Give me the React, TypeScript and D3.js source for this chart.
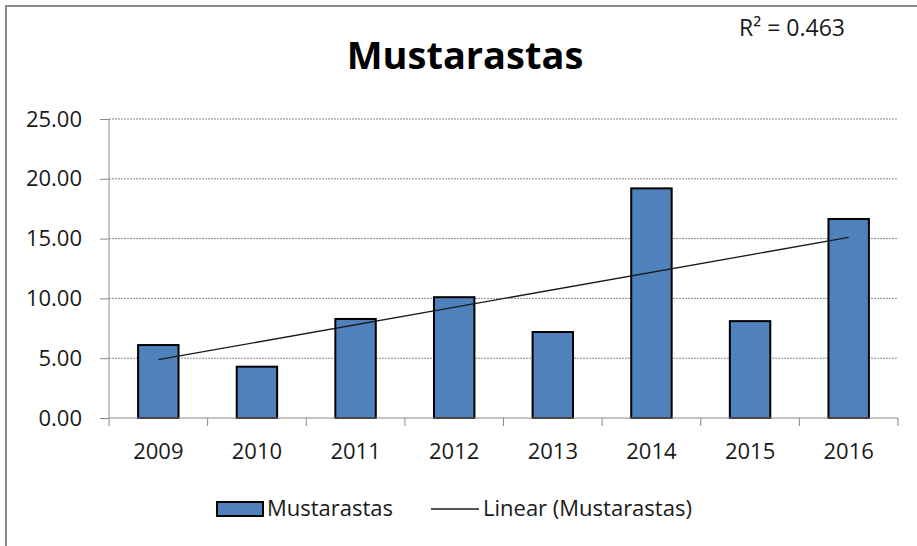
import React, { useRef, useEffect } from 'react';
import * as d3 from 'd3';

const years = ['2009', '2010', '2011', '2012', '2013', '2014', '2015', '2016'];
const values = [6.1, 4.29, 8.28, 10.1, 7.19, 19.2, 8.1, 16.64];
const yTicks = [0, 5, 10, 15, 20, 25];
const seriesName = 'Mustarastas';
const trendName = 'Linear (Mustarastas)';
const rSquaredLabel = 'R² = 0.463';

const FONT = '"Open Sans", Lato, sans-serif';

export default function App() {
  const svgRef = useRef<SVGSVGElement | null>(null);

  useEffect(() => {
    const W = 917;
    const H = 546;
    const svg = d3.select(svgRef.current);
    svg.selectAll('*').remove();
    svg.attr('width', W).attr('height', H);

    // frame (only left and top edges show in the crop)
    svg.append('path')
      .attr('d', `M6,${H} L6,6 L${W},6`)
      .attr('fill', 'none')
      .attr('stroke', '#8c8c8c')
      .attr('stroke-width', 2);

    const margin = { top: 119, right: 19, left: 109, bottom: 128 };
    const width = W - margin.left - margin.right;
    const height = H - margin.top - margin.bottom;

    const g = svg.append('g')
      .attr('transform', `translate(${margin.left},${margin.top})`);

    const x = d3.scaleBand().domain(years).range([0, width]).paddingInner(0.59).paddingOuter(0.295);
    const xc = d3.scaleBand().domain(years).range([0, width]);
    const y = d3.scaleLinear().domain([0, 25]).range([height, 0]);

    // grid lines
    g.append('g')
      .selectAll('line')
      .data(yTicks.filter(t => t > 0))
      .enter().append('line')
      .attr('x1', 0)
      .attr('x2', width)
      .attr('y1', d => y(d))
      .attr('y2', d => y(d))
      .attr('stroke', '#8a8a8a')
      .attr('stroke-width', 1)
      .attr('stroke-dasharray', '2 1');

    // bars
    g.append('g')
      .selectAll('rect')
      .data(values)
      .enter().append('rect')
      .attr('x', (d, i) => x(years[i])!)
      .attr('y', d => y(d))
      .attr('width', x.bandwidth())
      .attr('height', d => height - y(d))
      .attr('fill', '#4f81bd')
      .attr('stroke', '#000')
      .attr('stroke-width', 2);

    // linear trend (least squares on category index)
    const n = values.length;
    const xs = d3.range(1, n + 1);
    const mx = d3.mean(xs)!;
    const my = d3.mean(values)!;
    const slope = d3.sum(xs, (v, i) => (v - mx) * (values[i] - my)) / d3.sum(xs, v => (v - mx) ** 2);
    const icpt = my - slope * mx;
    const trend = d3.line<number>()
      .x(d => xc(years[d - 1])! + xc.bandwidth() / 2)
      .y(d => y(icpt + slope * d));
    g.append('path')
      .datum([xs[0], xs[n - 1]])
      .attr('d', trend)
      .attr('fill', 'none')
      .attr('stroke', '#1a1a1a')
      .attr('stroke-width', 1.3);

    // y axis
    const yAxis = g.append('g')
      .call(d3.axisLeft(y).tickValues(yTicks).tickSize(9).tickPadding(18).tickFormat(d => (d as number).toFixed(2)));
    yAxis.selectAll('line, path').attr('stroke', '#8a8a8a');
    yAxis.select('.domain').attr('d', `M0,${height}V0`);
    yAxis.selectAll('text')
      .style('fill', '#1a1a1a')
      .style('font-family', FONT)
      .style('font-size', '22px');

    // x axis
    const xAxis = g.append('g')
      .attr('transform', `translate(0,${height})`)
      .call(d3.axisBottom(xc).tickSize(0).tickPadding(25));
    xAxis.select('.domain').attr('d', `M0,0H${width}`).attr('stroke', '#8a8a8a');
    xAxis.selectAll('text')
      .style('fill', '#1a1a1a')
      .style('font-family', FONT)
      .style('font-size', '22px');
    xAxis.append('g')
      .selectAll('line')
      .data(d3.range(years.length + 1))
      .enter().append('line')
      .attr('x1', d => d * xc.step())
      .attr('x2', d => d * xc.step())
      .attr('y1', 0)
      .attr('y2', 8)
      .attr('stroke', '#8a8a8a');

    // title
    svg.append('text')
      .attr('x', 465)
      .attr('y', 69)
      .attr('text-anchor', 'middle')
      .style('font-family', FONT)
      .style('font-weight', '700')
      .style('font-size', '38px')
      .style('fill', '#000')
      .text(seriesName);

    // R squared
    svg.append('text')
      .attr('x', 739)
      .attr('y', 36)
      .style('font-family', FONT)
      .style('font-size', '23px')
      .style('fill', '#1a1a1a')
      .text(rSquaredLabel);

    // legend
    const lg = svg.append('g');
    lg.append('rect')
      .attr('x', 217).attr('y', 502)
      .attr('width', 46).attr('height', 14)
      .attr('fill', '#4f81bd')
      .attr('stroke', '#000')
      .attr('stroke-width', 2);
    lg.append('text')
      .attr('x', 267).attr('y', 516)
      .style('font-family', FONT)
      .style('font-size', '22px')
      .style('fill', '#1a1a1a')
      .text(seriesName);
    lg.append('line')
      .attr('x1', 431).attr('x2', 479)
      .attr('y1', 509).attr('y2', 509)
      .attr('stroke', '#1a1a1a')
      .attr('stroke-width', 1.3);
    lg.append('text')
      .attr('x', 483).attr('y', 516)
      .style('font-family', FONT)
      .style('font-size', '22px')
      .style('fill', '#1a1a1a')
      .text(trendName);
  }, []);

  return (
    <div style={{ position: 'absolute', left: 0, top: 0, width: 917, height: 546, background: '#fff' }}>
      <svg ref={svgRef} style={{ display: 'block' }} />
    </div>
  );
}
